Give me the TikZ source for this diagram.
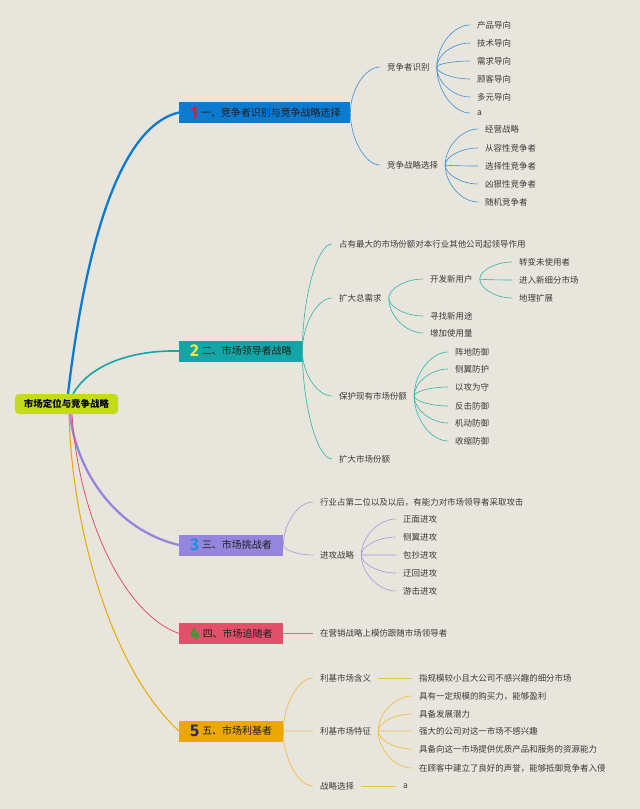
\documentclass[tikz,border=0pt]{standalone}
\usepackage{fontspec}
\setmainfont{Noto Sans CJK SC}
\newfontfamily\digitfont{Fira Sans}
\usetikzlibrary{calc}
\definecolor{bgc}{HTML}{E8E5DD}
\definecolor{rootc}{HTML}{C3DA1E}
\definecolor{cA}{HTML}{0B7BD2}
\definecolor{cB}{HTML}{14A6A6}
\definecolor{cC}{HTML}{9486DC}
\definecolor{cD}{HTML}{E2506A}
\definecolor{cE}{HTML}{EAA800}
\definecolor{tA}{HTML}{3D8FD8}
\definecolor{tB}{HTML}{2FB5A8}
\definecolor{tC}{HTML}{A397E0}
\definecolor{tD}{HTML}{E36A80}
\definecolor{tE}{HTML}{F0BE45}
\definecolor{dA}{HTML}{D42238}
\definecolor{dB}{HTML}{F2E44A}
\definecolor{dC}{HTML}{1E8FE0}
\definecolor{dD}{HTML}{2DA02D}
\definecolor{dE}{HTML}{2A2A6A}
\definecolor{leafc}{HTML}{3A3A3A}
\definecolor{boxtext}{HTML}{1E1E1E}
\newcommand\bnum[2]{\raisebox{-2bp}{\digitfont\bfseries\fontsize{17}{17}\selectfont\color{#1}#2}\kern3bp}
\newcommand\boxline[2]{\makebox[#1][l]{#2}}
\tikzset{
  leaf/.style={anchor=west, inner xsep=7bp, inner ysep=1bp, font=\fontsize{8.5}{10}\selectfont, text=leafc},
  mainbox/.style={anchor=west, inner xsep=11bp, inner ysep=0pt, minimum height=21bp, font=\fontsize{10}{11}\selectfont, text=boxtext},
  thinA/.style={draw=tA, line width=0.6bp},
  thinB/.style={draw=tB, line width=0.6bp},
  thinC/.style={draw=tC, line width=0.6bp},
  thinD/.style={draw=tD, line width=0.6bp},
  thinE/.style={draw=tE, line width=0.7bp},
  crv/.style={to path={.. controls ($(\tikztostart)!0.5!(\tikztotarget -| \tikztostart)$) and ($(\tikztotarget)!0.5!(\tikztostart |- \tikztotarget)$) .. (\tikztotarget)}}
}
\begin{document}
\begin{tikzpicture}[x=1bp,y=-1bp]
\fill[bgc] (0,0) rectangle (640,809);
\useasboundingbox (0,0) rectangle (640,809);

% root and main boxes
\node[fill=rootc, rounded corners=4bp, minimum width=103bp, minimum height=20bp, inner sep=0pt,
      font=\bfseries\fontsize{9.5}{11}\selectfont, text=black] (root) at (66.5,404) {市场定位与竞争战略};
\node[mainbox, fill=cA] (b1) at (179,112.5) {\boxline{149bp}{\bnum{dA}{1}一、竞争者识别与竞争战略选择}};
\node[mainbox, fill=cB] (b2) at (179,351) {\boxline{101bp}{\bnum{dB}{2}二、市场领导者战略}};
\node[mainbox, fill=cC] (b3) at (179,545) {\boxline{82bp}{\bnum{dC}{3}三、市场挑战者}};
\node[mainbox, fill=cD] (b4) at (179,633.5) {\boxline{82bp}{\bnum{dD}{4}四、市场追随者}};
\node[mainbox, fill=cE] (b5) at (179,731) {\boxline{82bp}{\bnum{dE}{5}五、市场利基者}};

% main connectors
\draw[cA, line width=2.3bp] ([xshift=1.5bp]root.north) .. controls (82,275) and (112,128) .. (b1.west);
\draw[cB, line width=1.6bp] ([xshift=6.5bp]root.north) .. controls (88,368) and (125,350) .. (b2.west);
\draw[cC, line width=2.3bp] ([xshift=3.5bp]root.south) .. controls (76,470) and (115,530) .. (b3.west);
\draw[cD, line width=0.8bp] ([xshift=5.5bp]root.south) .. controls (78,510) and (120,612) .. (b4.west);
\draw[cE, line width=1bp] ([xshift=2.5bp]root.south) .. controls (72,530) and (112,670) .. (b5.west);

% branch 1
\node[leaf] (n11) at (380,67) {竞争者识别};
\node[leaf] (n12) at (380,165) {竞争战略选择};
\draw[thinA] (b1.east) to[crv] (n11.west);
\draw[thinA] (b1.east) to[crv] (n12.west);
\foreach \yy/\tt [count=\i] in {25/产品导向, 43/技术导向, 61/需求导向, 79/顾客导向, 97/多元导向, 113/a}{
  \node[leaf] (n11-\i) at (470,\yy) {\tt};
  \draw[thinA] (n11.east) to[crv] (n11-\i.west);
}
\foreach \yy/\tt [count=\i] in {129/经营战略, 148/从容性竞争者, 166/选择性竞争者, 184/凶狠性竞争者, 202/随机竞争者}{
  \node[leaf] (n12-\i) at (478,\yy) {\tt};
  \draw[thinA] (n12.east) to[crv] (n12-\i.west);
}

% branch 2
\node[leaf] (n21) at (332,244) {占有最大的市场份额对本行业其他公司起领导作用};
\node[leaf] (n22) at (332,298) {扩大总需求};
\node[leaf] (n23) at (332,396) {保护现有市场份额};
\node[leaf] (n24) at (332,459) {扩大市场份额};
\foreach \n in {n21,n22,n23,n24}{\draw[thinB] (b2.east) to[crv] (\n.west);}
\node[leaf] (n221) at (423,279) {开发新用户};
\node[leaf] (n222) at (423,316) {寻找新用途};
\node[leaf] (n223) at (423,333) {增加使用量};
\foreach \n in {n221,n222,n223}{\draw[thinB] (n22.east) to[crv] (\n.west);}
\foreach \yy/\tt [count=\i] in {262/转变未使用者, 280/进入新细分市场, 298/地理扩展}{
  \node[leaf] (n221-\i) at (512,\yy) {\tt};
  \draw[thinB] (n221.east) to[crv] (n221-\i.west);
}
\foreach \yy/\tt [count=\i] in {352/阵地防御, 369/侧翼防护, 387/以攻为守, 406/反击防御, 423/机动防御, 441/收缩防御}{
  \node[leaf] (n23-\i) at (448,\yy) {\tt};
  \draw[thinB] (n23.east) to[crv] (n23-\i.west);
}

% branch 3
\node[leaf] (n31) at (313,502) {行业占第二位以及以后，有能力对市场领导者采取攻击};
\node[leaf] (n32) at (313,555) {进攻战略};
\draw[thinC] (b3.east) to[crv] (n31.west);
\draw[thinC] (b3.east) to[crv] (n32.west);
\foreach \yy/\tt [count=\i] in {519/正面进攻, 537/侧翼进攻, 555/包抄进攻, 573/迂回进攻, 591/游击进攻}{
  \node[leaf] (n32-\i) at (396,\yy) {\tt};
  \draw[thinC] (n32.east) to[crv] (n32-\i.west);
}

% branch 4
\node[leaf] (n41) at (313,633.5) {在营销战略上模仿跟随市场领导者};
\draw[thinD] (b4.east) -- (n41.west);

% branch 5
\node[leaf] (n51) at (313,678) {利基市场含义};
\node[leaf] (n52) at (313,731) {利基市场特征};
\node[leaf] (n53) at (313,786) {战略选择};
\foreach \n in {n51,n52,n53}{\draw[thinE] (b5.east) to[crv] (\n.west);}
\node[leaf] (n511) at (412,678) {指规模较小且大公司不感兴趣的细分市场};
\draw[thinE] (n51.east) -- (n511.west);
\foreach \yy/\tt [count=\i] in {696/具有一定规模的购买力，能够盈利, 714/具备发展潜力, 731/强大的公司对这一市场不感兴趣, 749/具备向这一市场提供优质产品和服务的资源能力, 768/在顾客中建立了良好的声誉，能够抵御竞争者入侵}{
  \node[leaf] (n52-\i) at (412,\yy) {\tt};
  \draw[thinE] (n52.east) to[crv] (n52-\i.west);
}
\node[leaf] (n531) at (396,786) {a};
\draw[thinE] (n53.east) -- (n531.west);
\end{tikzpicture}
\end{document}
